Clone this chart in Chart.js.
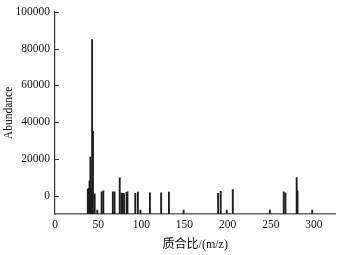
<!DOCTYPE html>
<html lang="zh">
<head>
    <meta charset="UTF-8">
    <title>Mass spectrum</title>
    <script src="https://cdn.jsdelivr.net/npm/chart.js"></script>
    <style>
        body { margin: 0; background: #fff; }
        #wrap { width: 339px; height: 255px; }
    </style>
</head>
<body>
    <div id="wrap"><canvas id="spectrum"></canvas></div>
    <script>
        // peaks
        const massToCharge = [38, 39, 40, 41, 42, 43, 44, 46, 49, 54, 56, 67, 69, 75, 77, 78, 80, 83, 84,
                              93, 96, 99, 110, 123, 132, 149, 189, 192, 199, 206, 249, 265, 267, 280, 281, 298];
        const abundance = [3500, 4000, 8000, 21000, 4000, 85000, 35000, 1000, -7800, 2000, 2600, 2000, 2000, 9700, 1400, 1200, 1300, 1800, 2000,
                           1300, 1900, -7800, 1500, 1500, 1900, -7800, 1200, 2400, -7800, 3300, -7800, 2100, 1500, 9800, 2600, -7800];
        const xTicks = [0, 50, 100, 150, 200, 250, 300];
        const yTicks = [0, 20000, 40000, 60000, 80000, 100000];
        const yFloor = -10000;

        const serif = "'Liberation Serif', 'Noto Sans CJK SC', serif";

        // small inward tick marks on the y axis
        const innerTicks = {
            id: 'innerTicks',
            afterDraw(chart) {
                const ctx = chart.ctx;
                const y = chart.scales.y;
                const left = chart.chartArea.left;
                ctx.save();
                ctx.strokeStyle = '#333';
                ctx.lineWidth = 1;
                yTicks.forEach(v => {
                    const py = Math.round(y.getPixelForValue(v)) + 0.5;
                    ctx.beginPath();
                    ctx.moveTo(left, py);
                    ctx.lineTo(left + 4, py);
                    ctx.stroke();
                });
                ctx.restore();
            }
        };

        new Chart(document.getElementById('spectrum'), {
            type: 'bar',
            data: {
                datasets: [{
                    data: massToCharge.map((m, i) => ({ x: m, y: abundance[i] })),
                    base: yFloor,
                    backgroundColor: '#1c1c1c',
                    borderWidth: 0,
                    barThickness: 1.2
                }]
            },
            options: {
                responsive: true,
                maintainAspectRatio: false,
                animation: false,
                devicePixelRatio: 1,
                layout: { padding: { left: 0, right: 3.5, top: 10, bottom: 0 } },
                plugins: { legend: { display: false }, tooltip: { enabled: false } },
                scales: {
                    x: {
                        type: 'linear',
                        offset: false,
                        min: 0,
                        max: 325,
                        afterBuildTicks: s => { s.ticks = xTicks.map(v => ({ value: v })); },
                        afterFit: s => { s.height = 41; },
                        grid: { display: false, drawTicks: false, offset: false },
                        border: { display: true, color: '#666', width: 1.5 },
                        ticks: { padding: 4, color: '#111', font: { family: serif, size: 11.5 }, maxRotation: 0,
                                 callback: v => String(v) },
                        title: { display: true, text: '质合比/(m/z)', color: '#111', font: { family: serif, size: 12 }, padding: { top: 0, bottom: 3 } }
                    },
                    y: {
                        min: yFloor,
                        max: 100000,
                        afterBuildTicks: s => { s.ticks = yTicks.map(v => ({ value: v })); },
                        afterFit: s => { s.width = 55; },
                        grid: { display: false, drawTicks: false },
                        border: { display: true, color: '#333', width: 1.2 },
                        ticks: { padding: 5, color: '#111', font: { family: serif, size: 11.5 },
                                 callback: v => String(v) },
                        title: { display: true, text: 'Abundance', color: '#111', font: { family: serif, size: 11.5 }, padding: { top: 2, bottom: 0 } }
                    }
                }
            },
            plugins: [innerTicks]
        });
    </script>
</body>
</html>
